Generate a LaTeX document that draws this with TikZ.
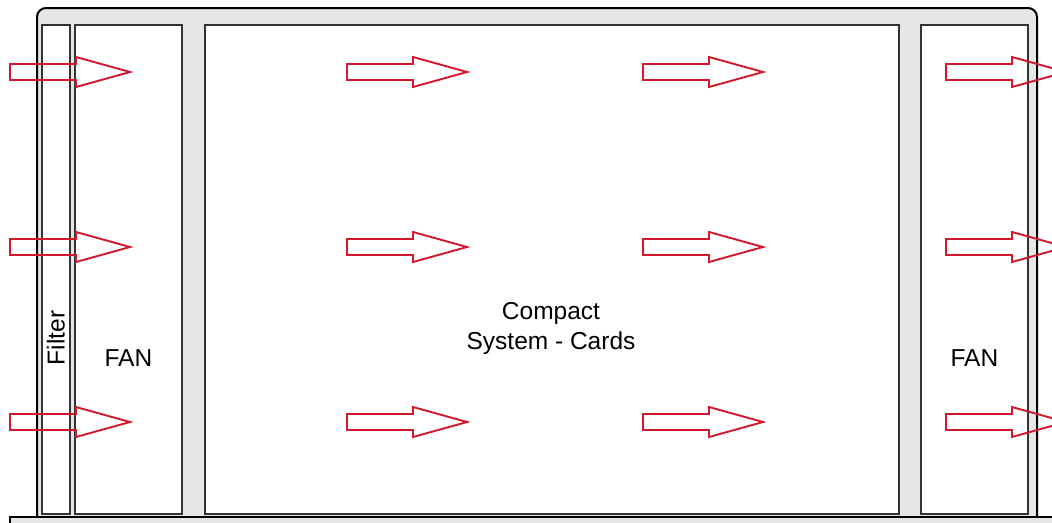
\documentclass[tikz,border=0pt]{standalone}
\usepackage{fontspec}
\setmainfont{Liberation Sans}
\usetikzlibrary{positioning}

\definecolor{casegrey}{HTML}{E6E6E6}
\definecolor{linegrey}{HTML}{333333}
\definecolor{airred}{HTML}{D2192B}

\tikzset{
    slot/.style={rectangle, draw=linegrey, line width=1.8pt, fill=white, inner sep=0pt, anchor=north west},
    airflow/.style={draw=airred, line width=1.9pt, line join=miter},
    lbl/.style={font=\fontsize{24.5}{30}\selectfont, align=center, text=black}
}

\begin{document}
\begin{tikzpicture}[x=1pt, y=-1pt]
    \useasboundingbox (0,0) rectangle (1052,522);
    \clip (0,0) rectangle (1052,522);

    % housing
    \draw[fill=casegrey, line width=2pt, rounded corners=9pt] (37,8) rectangle (1037,560);

    \node[slot, minimum width=28pt, minimum height=489pt] (filter) at (41,24) {};
    \node[slot, minimum width=107pt, minimum height=489pt] (fanin) at (74,24) {};
    \node[slot, minimum width=694pt, minimum height=489pt] (cards) at (204,24) {};
    \node[slot, minimum width=107pt, minimum height=489pt] (fanout) at (920,24) {};

    \node[lbl, rotate=90] (filterlbl) at (filter.center |- 0,338) {Filter};
    \node[lbl] (faninlbl) at (fanin.center |- 0,358) {FAN};
    \node[lbl] (fanoutlbl) at (fanout.center |- 0,358) {FAN};
    \node[lbl] (cardslbl) at (551,328) {Compact\\System - Cards};

    % air flow
    \foreach \ax in {10,347,643,946}{
        \foreach \ay in {72,247,422}{
            \draw[airflow] (\ax,\ay-8) -- ++(66,0) -- ++(0,-7) -- (\ax+120,\ay)
                -- (\ax+66,\ay+15) -- ++(0,-7) -- (\ax,\ay+8) -- cycle;
        }
    }

    % base plate
    \draw[fill=casegrey, line width=2pt] (10,517) rectangle (1070,560);
\end{tikzpicture}
\end{document}
